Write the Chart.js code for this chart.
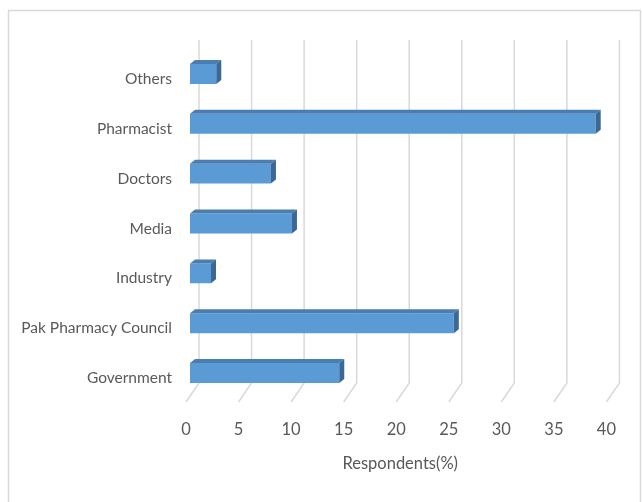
<!DOCTYPE html>
<html>
<head>
<meta charset="utf-8">
<script src="https://cdn.jsdelivr.net/npm/chart.js@4/dist/chart.umd.min.js"></script>
<style>
    html, body { margin: 0; padding: 0; background: #fff; }
    #wrap { width: 642px; height: 502px; position: relative; }
</style>
</head>
<body>
<div id="wrap"><canvas id="chart"></canvas></div>
<script>
/* datos del gráfico */
const categories = ["Others", "Pharmacist", "Doctors", "Media", "Industry", "Pak Pharmacy Council", "Government"];
const respondents = [2.5, 38.6, 7.7, 9.7, 2.0, 25.1, 14.2];
const xTicks = [0, 5, 10, 15, 20, 25, 30, 35, 40];

const FONT = "Lato, 'Open Sans', sans-serif";
const TEXT = "#595959";
const GRID = "#d9d9d9";

/* --------------------------------------------
   Marco exterior del gráfico
-------------------------------------------- */
const framePlugin = {
    id: "frame",
    beforeDraw(chart) {
        const c = chart.ctx;
        c.save();
        c.strokeStyle = "#d9d9d9";
        c.lineWidth = 1.5;
        c.strokeRect(8.5, 10.5, 632, 500);
        c.restore();
    }
};

/* --------------------------------------------
   Rejilla en perspectiva (pared trasera + suelo)
-------------------------------------------- */
const grid3dPlugin = {
    id: "grid3d",
    beforeDatasetsDraw(chart) {
        const c = chart.ctx;
        const xs = chart.scales.x;
        const area = chart.chartArea;
        const top = area.top - 9;
        const floorBack = area.bottom - 15;
        const floorFront = area.bottom + 4;
        c.save();
        c.strokeStyle = GRID;
        c.lineWidth = 1.5;
        xTicks.forEach(v => {
            const px = xs.getPixelForValue(v);
            c.beginPath();
            c.moveTo(px + 9, top);
            c.lineTo(px + 9, floorBack);
            c.lineTo(px - 4, floorFront);
            c.stroke();
        });
        c.restore();
    }
};

/* --------------------------------------------
   Caras superior y lateral de las barras
-------------------------------------------- */
const bar3dPlugin = {
    id: "bar3d",
    afterDatasetsDraw(chart) {
        const c = chart.ctx;
        const dx = 5, dy = 4;
        chart.getDatasetMeta(0).data.forEach(bar => {
            const top = bar.y - bar.height / 2;
            const bottom = bar.y + bar.height / 2;
            const left = bar.base;
            const right = bar.x;
            c.save();
            c.fillStyle = "#4a7db0";
            c.beginPath();
            c.moveTo(left, top);
            c.lineTo(left + dx, top - dy);
            c.lineTo(right + dx, top - dy);
            c.lineTo(right, top);
            c.closePath();
            c.fill();
            c.fillStyle = "#3c6894";
            c.beginPath();
            c.moveTo(right, top);
            c.lineTo(right + dx, top - dy);
            c.lineTo(right + dx, bottom - dy);
            c.lineTo(right, bottom);
            c.closePath();
            c.fill();
            c.restore();
        });
    }
};

new Chart(document.getElementById("chart"), {
    type: "bar",
    data: {
        labels: categories,
        datasets: [{
            label: "Respondents(%)",
            data: respondents,
            backgroundColor: "#5b9bd5",
            borderWidth: 0,
            barPercentage: 0.4,
            categoryPercentage: 1
        }]
    },
    options: {
        indexAxis: "y",
        responsive: true,
        maintainAspectRatio: false,
        animation: false,
        layout: { padding: { top: 49, right: 30, bottom: 0, left: 0 } },
        plugins: {
            legend: { display: false },
            tooltip: { enabled: false }
        },
        scales: {
            x: {
                min: 0,
                max: 40,
                afterBuildTicks: axis => { axis.ticks = xTicks.map(v => ({ value: v })); },
                grid: { display: false, drawTicks: false },
                border: { display: false },
                ticks: {
                    color: TEXT,
                    font: { family: FONT, size: 16.5 },
                    padding: 22,
                    labelOffset: -4,
                    maxRotation: 0
                },
                title: {
                    display: true,
                    text: "Respondents(%)",
                    color: TEXT,
                    font: { family: FONT, size: 16.5 },
                    padding: { top: 14, bottom: 28 }
                },
                afterFit: axis => { axis.height = 104; }
            },
            y: {
                grid: { display: false, drawTicks: false },
                border: { display: false },
                ticks: {
                    color: TEXT,
                    font: { family: FONT, size: 15.5 },
                    padding: 18,
                    labelOffset: 5
                },
                afterFit: axis => { axis.width = 190; }
            }
        }
    },
    plugins: [framePlugin, grid3dPlugin, bar3dPlugin]
});
</script>
</body>
</html>
